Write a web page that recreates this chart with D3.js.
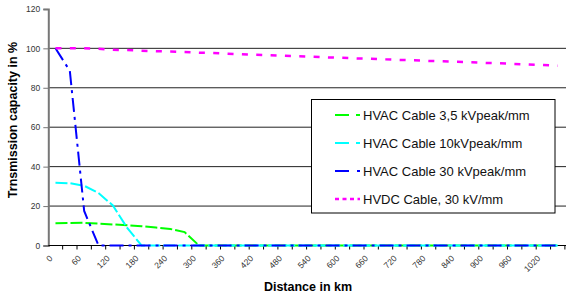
<!DOCTYPE html>
<html>
<head>
<meta charset="utf-8">
<script src="https://cdn.jsdelivr.net/npm/d3@7"></script>
<style>
  body { margin: 0; background: #fff; }
  svg { display: block; font-family: Arial, "Liberation Sans", sans-serif; }
</style>
</head>
<body>
<svg id="chart" width="566" height="298"></svg>
<script>
// distance categories (km), one every 30 km
var distances = [0, 30, 60, 90, 120, 150, 180, 210, 240, 270, 300, 330, 360, 390, 420, 450, 480, 510,
                 540, 570, 600, 630, 660, 690, 720, 750, 780, 810, 840, 870, 900, 930, 960, 990, 1020, 1050]

var hvac35 = [11.3, 11.4, 11.5, 11.1, 10.7, 10.3, 9.8, 9.1, 8.4, 6.8, 0, 0, 0, 0, 0, 0, 0, 0,
              0, 0, 0, 0, 0, 0, 0, 0, 0, 0, 0, 0, 0, 0, 0, 0, 0, 0]
var hvac10 = [31.8, 31.6, 30.3, 26.6, 20.3, 8.9, 0, 0, 0, 0, 0, 0, 0, 0, 0, 0, 0, 0,
              0, 0, 0, 0, 0, 0, 0, 0, 0, 0, 0, 0, 0, 0, 0, 0, 0, 0]
var hvac30 = [100, 88.6, 17.5, 0, 0, 0, 0, 0, 0, 0, 0, 0, 0, 0, 0, 0, 0, 0,
              0, 0, 0, 0, 0, 0, 0, 0, 0, 0, 0, 0, 0, 0, 0, 0, 0, 0]
var hvdc30 = [100, 100, 100, 99.8, 99.3, 99.1, 98.8, 98.5, 98.4, 98.1, 97.8, 97.6, 97.3, 97.0, 96.8, 96.5, 96.2, 96.0,
              95.7, 95.4, 95.2, 94.9, 94.7, 94.4, 94.1, 93.9, 93.6, 93.4, 93.2, 92.9, 92.6, 92.4, 92.1, 91.8, 91.5, 91.2]

var seriesNames = ["HVAC Cable 3,5 kVpeak/mm", "HVAC Cable 10kVpeak/mm", "HVAC Cable 30 kVpeak/mm", "HVDC Cable, 30 kV/mm"]
var yTicks = [0, 20, 40, 60, 80, 100, 120]
var gridValues = [20, 40, 60, 80, 100]

var svg = d3.select('#chart')

var left = 48.3, step = 14.35
var x = d3.scaleBand()
  .domain(distances)
  .range([left, left + step * distances.length])
  .paddingInner(0).paddingOuter(0)

var y = d3.scaleLinear()
  .domain([0, 120])
  .range([245.5, 8.9])

// horizontal grid lines
svg.append('g')
  .selectAll('line')
  .data(gridValues)
  .enter().append('line')
  .attr('x1', left).attr('x2', 566)
  .attr('y1', d => y(d)).attr('y2', d => y(d))
  .attr('stroke', '#222').attr('stroke-width', 1)

// y axis
var yAxis = svg.append('g')
  .attr('transform', 'translate(' + left + ',0)')
  .call(d3.axisLeft(y).tickValues(yTicks).tickSize(5).tickPadding(3))
yAxis.select('.domain').attr('stroke', '#777').attr('stroke-width', 2)
yAxis.selectAll('.tick line').attr('stroke', '#777')
yAxis.selectAll('text').style('font-size', '8.5px').attr('fill', '#333')

// x axis: ticks between categories, labels on every second category
var xg = svg.append('g')
xg.append('line')
  .attr('x1', left).attr('x2', 566)
  .attr('y1', y(0)).attr('y2', y(0))
  .attr('stroke', '#000').attr('stroke-width', 1)
xg.selectAll('.tk')
  .data(distances)
  .enter().append('line')
  .attr('class', 'tk')
  .attr('x1', d => x(d) + step).attr('x2', d => x(d) + step)
  .attr('y1', y(0)).attr('y2', y(0) + 4)
  .attr('stroke', '#000')
xg.selectAll('text')
  .data(distances.filter((d, i) => i % 2 == 0))
  .enter().append('text')
  .attr('transform', d => 'translate(' + (x(d) + x.bandwidth() / 2 - 2.5) + ',259) rotate(-45)')
  .style('text-anchor', 'end')
  .style('font-size', '8.5px')
  .attr('fill', '#333')
  .text(d => d)

// the four series
var series = [
  { name: seriesNames[0], values: hvac35, color: '#00ff00', width: 2, dash: '12,3', legendDash: '14,7' },
  { name: seriesNames[1], values: hvac10, color: '#00ffff', width: 2, dash: '12,3', legendDash: '14,7' },
  { name: seriesNames[2], values: hvac30, color: '#0000ff', width: 2, dash: '14,5,3,5', legendDash: '14,8,3' },
  { name: seriesNames[3], values: hvdc30, color: '#ff00ff', width: 2.5, dash: '6,8.35', legendDash: '4,3.5' }
]

var line = d3.line()
  .x((d, i) => x(distances[i]) + x.bandwidth() / 2)
  .y(d => y(d))

svg.append('g')
  .selectAll('path')
  .data(series)
  .enter().append('path')
  .attr('d', s => line(s.values))
  .attr('fill', 'none')
  .attr('stroke', s => s.color)
  .attr('stroke-width', s => s.width)
  .attr('stroke-dasharray', s => s.dash)

// legend
var legend = svg.append('g')
legend.append('rect')
  .attr('x', 311.5).attr('y', 99.5)
  .attr('width', 243.5).attr('height', 113.5)
  .attr('fill', '#fff').attr('stroke', '#000').attr('stroke-width', 1)

var items = legend.selectAll('.item')
  .data(series)
  .enter().append('g')
  .attr('class', 'item')
  .attr('transform', (d, i) => 'translate(0,' + (115 + i * 28) + ')')
items.append('line')
  .attr('x1', 335).attr('x2', 360)
  .attr('y1', 0).attr('y2', 0)
  .attr('stroke', d => d.color)
  .attr('stroke-width', d => d.width)
  .attr('stroke-dasharray', d => d.legendDash)
items.append('text')
  .attr('x', 363).attr('y', 4.6)
  .style('font-size', '13px')
  .attr('fill', '#111')
  .text(d => d.name)

// axis titles
svg.append('text')
  .attr('transform', 'translate(17,120) rotate(-90)')
  .style('text-anchor', 'middle')
  .style('font-size', '12.5px')
  .style('font-weight', 'bold')
  .text('Trnsmission capacity in %')

svg.append('text')
  .attr('x', 308).attr('y', 291)
  .style('text-anchor', 'middle')
  .style('font-size', '12.5px')
  .style('font-weight', 'bold')
  .text('Distance in km')
</script>
</body>
</html>
